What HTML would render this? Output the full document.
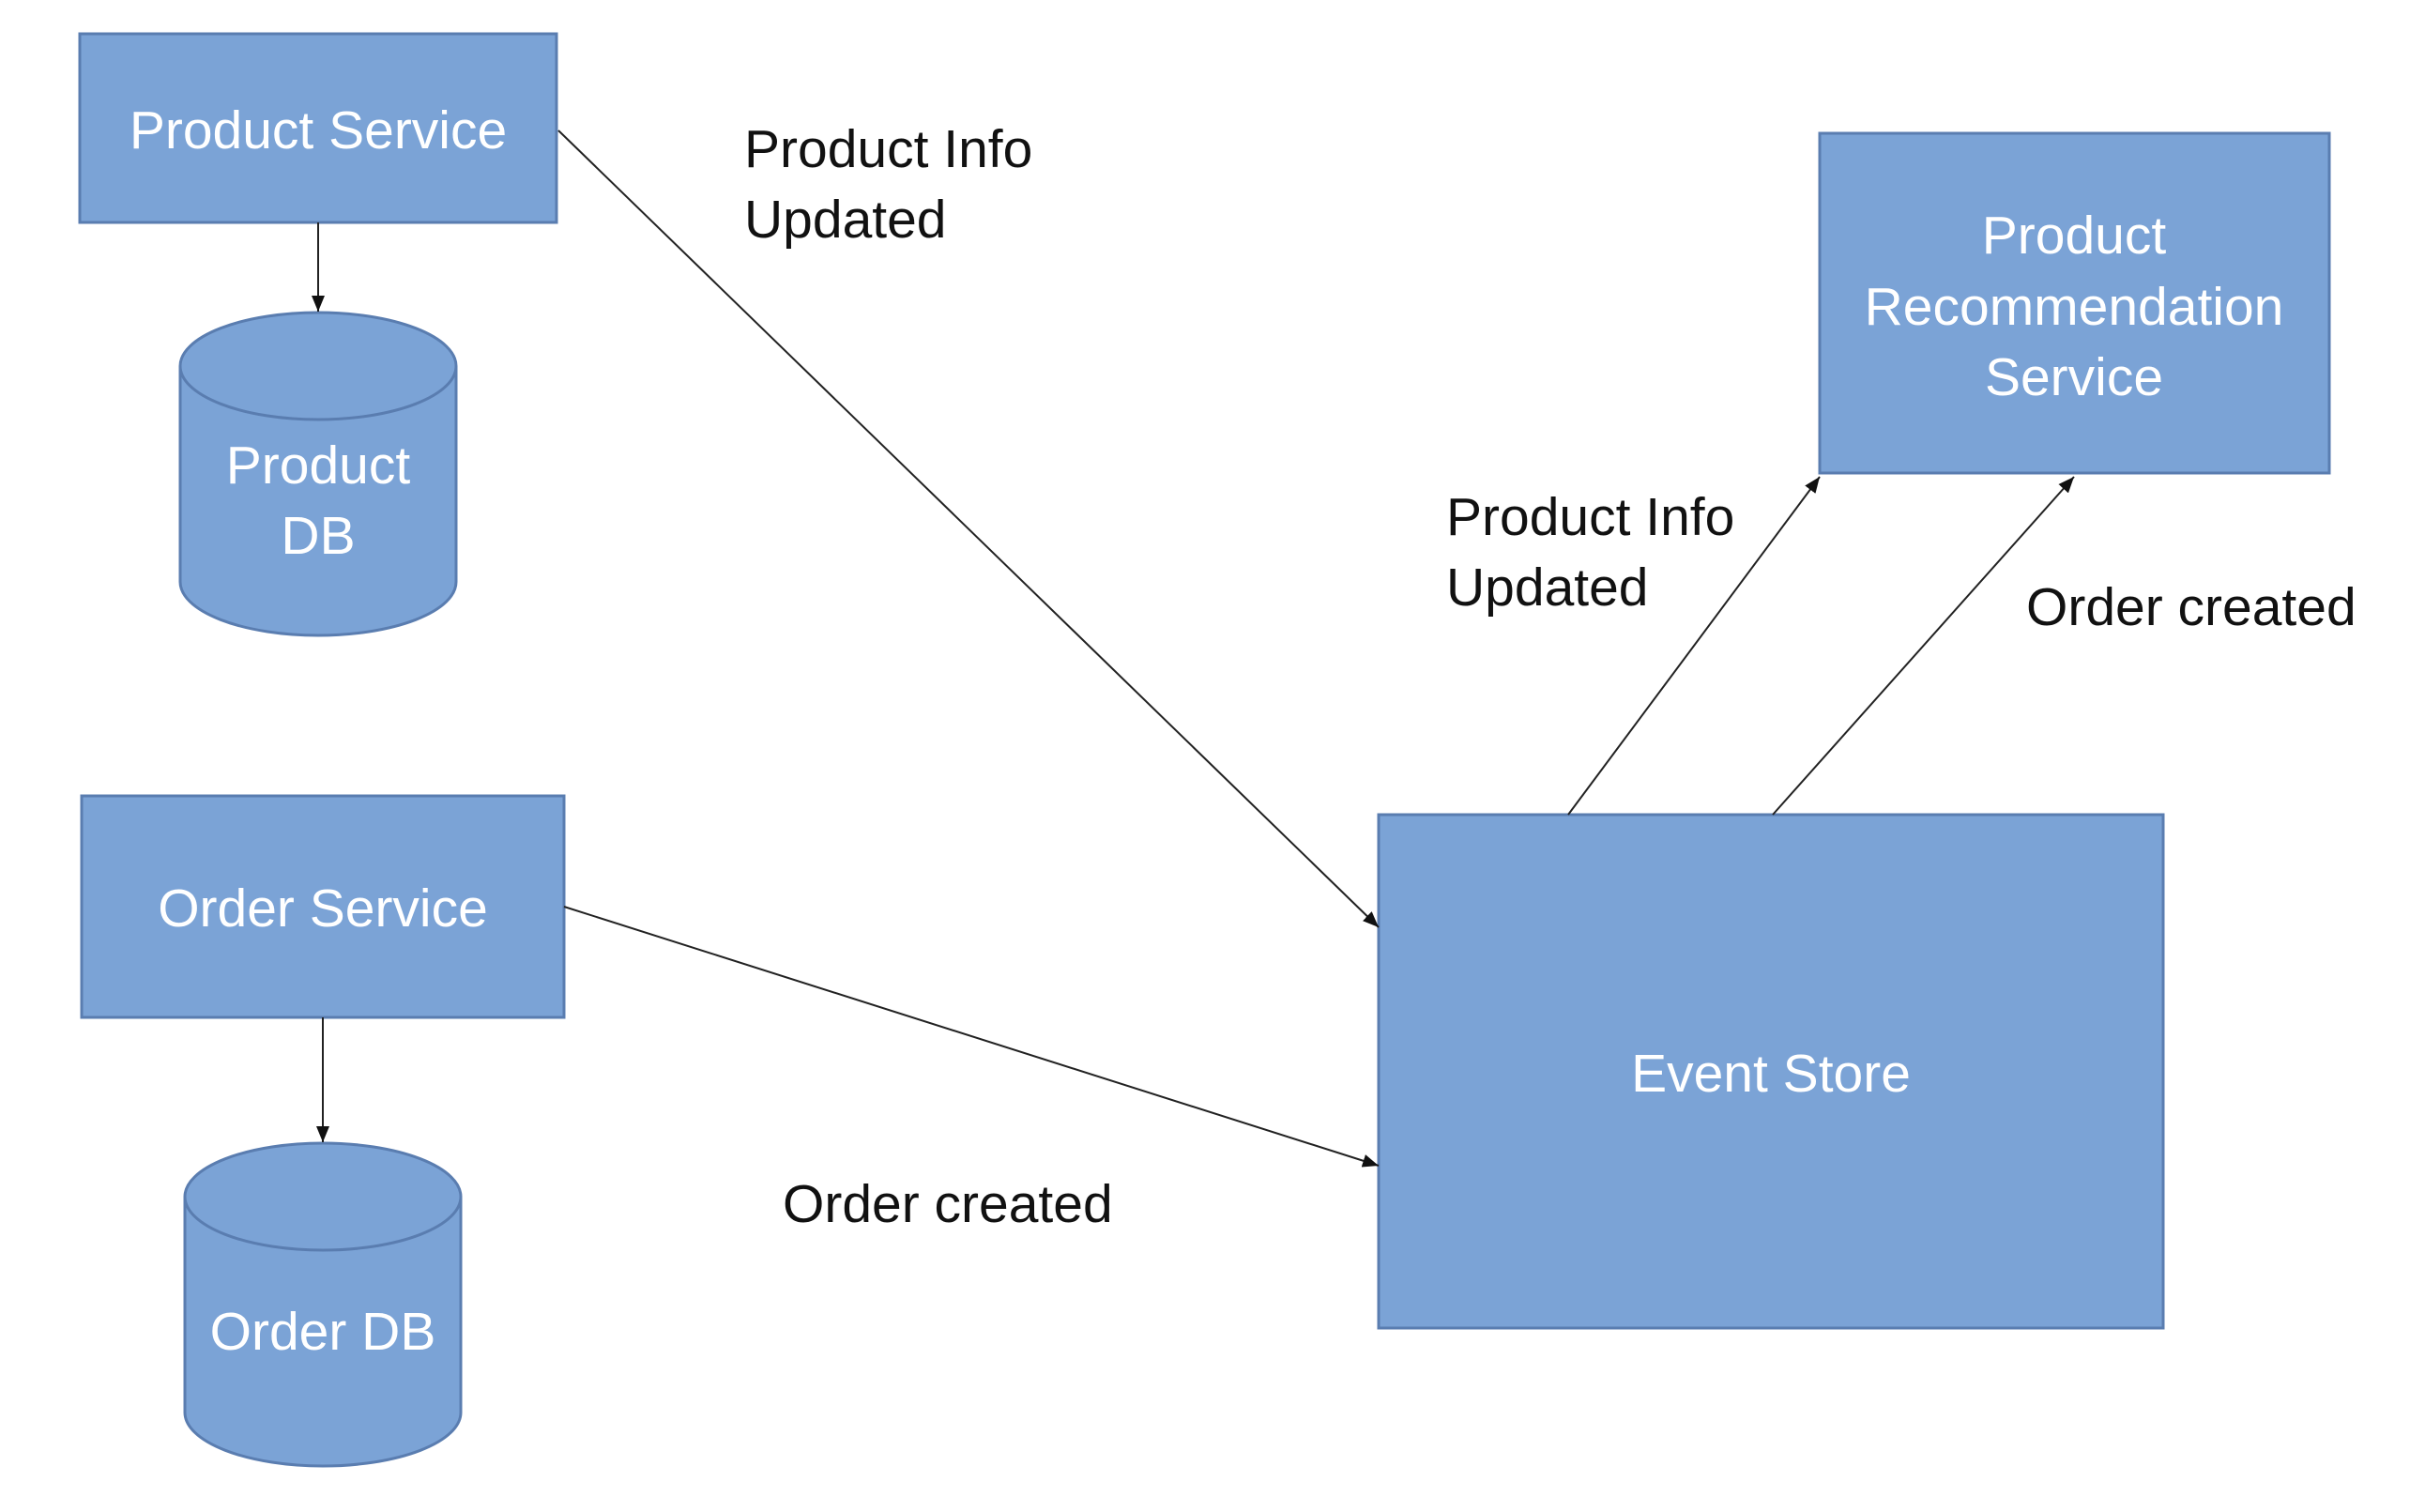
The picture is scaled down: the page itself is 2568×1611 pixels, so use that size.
<!DOCTYPE html>
<html><head><meta charset="utf-8"><style>
html,body{margin:0;padding:0;background:#fff;}
svg{display:block}
.w{font-family:"Liberation Sans Narrow","Liberation Sans",sans-serif;font-size:57px;fill:#fff;text-anchor:middle;}
.b{font-family:"Liberation Sans Narrow","Liberation Sans",sans-serif;font-size:57px;fill:#111;}
</style></head><body>
<svg width="2568" height="1611" viewBox="0 0 2568 1611" xmlns="http://www.w3.org/2000/svg">
<defs><marker id="a" markerWidth="10" markerHeight="10" refX="9" refY="5" orient="auto" markerUnits="userSpaceOnUse"><path d="M0,0 L10,5 L0,10 z" fill="#111"/></marker>
<marker id="a2" markerWidth="18" markerHeight="18" refX="17" refY="9" orient="auto" markerUnits="userSpaceOnUse"><path d="M0,2 L17,9 L0,16 z" fill="#111"/></marker></defs>
<g fill="#7BA3D6" stroke="#5A7DB0" stroke-width="3">
<rect x="85" y="36" width="508" height="201"/>
<rect x="87" y="848" width="514" height="236"/>
<rect x="1939" y="142" width="543" height="362"/>
<rect x="1469" y="868" width="836" height="547"/>
<path d="M192,390 L192,620 A147,57 0 0 0 486,620 L486,390"/>
<ellipse cx="339" cy="390" rx="147" ry="57"/>
<path d="M197,1275 L197,1505 A147,57 0 0 0 491,1505 L491,1275"/>
<ellipse cx="344" cy="1275" rx="147" ry="57"/>
</g>
<g stroke="#222" stroke-width="2" fill="none" marker-end="url(#a2)">
<line x1="339" y1="237" x2="339" y2="332"/>
<line x1="344" y1="1084" x2="344" y2="1217"/>
<line x1="595" y1="139" x2="1469" y2="988"/>
<line x1="601" y1="966" x2="1469" y2="1242"/>
<line x1="1671" y1="868" x2="1939" y2="508"/>
<line x1="1889" y1="868" x2="2210" y2="508"/>
</g>
<text class="w" x="339" y="158">Product Service</text>
<text class="w" x="339" y="515">Product</text>
<text class="w" x="339" y="590">DB</text>
<text class="w" x="344" y="987">Order Service</text>
<text class="w" x="344" y="1438">Order DB</text>
<text class="w" x="2210" y="270">Product</text>
<text class="w" x="2210" y="346">Recommendation</text>
<text class="w" x="2210" y="421">Service</text>
<text class="w" x="1887" y="1163">Event Store</text>
<text class="b" x="793" y="178">Product Info</text>
<text class="b" x="793" y="253">Updated</text>
<text class="b" x="1541" y="570">Product Info</text>
<text class="b" x="1541" y="645">Updated</text>
<text class="b" x="2159" y="666">Order created</text>
<text class="b" x="834" y="1302">Order created</text>
</svg>
</body></html>
